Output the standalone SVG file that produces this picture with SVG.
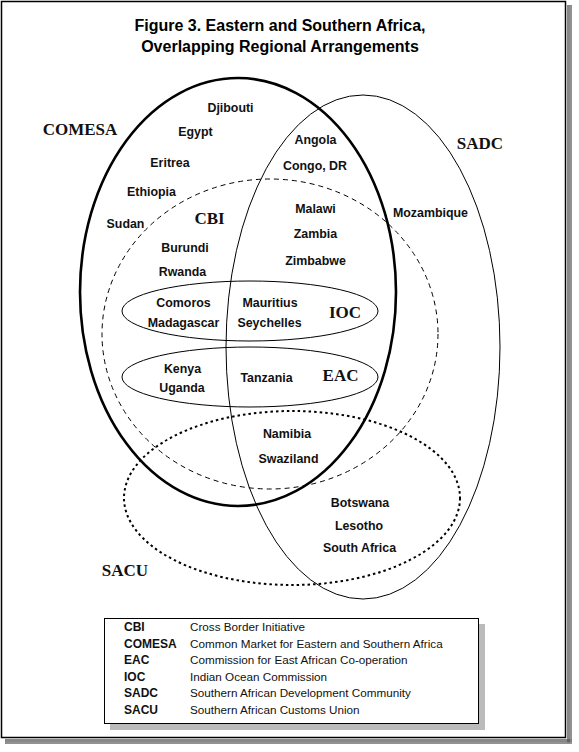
<svg xmlns="http://www.w3.org/2000/svg" width="579" height="752" viewBox="0 0 579 752">
<style>
.title{font-family:"Liberation Sans",Arial,sans-serif;font-weight:bold;font-size:16px;text-anchor:middle;fill:#000}
.c{font-family:"Liberation Sans",Arial,sans-serif;font-weight:bold;font-size:12.4px;text-anchor:middle;fill:#111}
.g{font-family:"Liberation Serif","Times New Roman",serif;font-weight:bold;font-size:17px;text-anchor:middle;fill:#111}
.ab{font-family:"Liberation Sans",Arial,sans-serif;font-weight:bold;font-size:12px;fill:#111}
.ds{font-family:"Liberation Sans",Arial,sans-serif;font-size:11.7px;fill:#111}
.e{fill:none;stroke:#000}
</style>
<rect width="579" height="752" fill="#fff"/>
<!-- frame shadow -->
<rect x="567" y="5" width="5" height="738" fill="#555" opacity="0.7"/>
<rect x="5" y="739" width="567" height="5" fill="#555" opacity="0.7"/>
<rect x="570" y="6" width="2" height="738" fill="#999" opacity="0.6"/>
<rect x="6" y="742" width="566" height="2" fill="#999" opacity="0.6"/>
<rect x="1.5" y="1.5" width="564" height="736" fill="#fff" stroke="#000" stroke-width="1.5"/>
<g id="title">
<text class="title" x="280" y="31">Figure 3. Eastern and Southern Africa,</text>
<text class="title" x="280" y="52">Overlapping Regional Arrangements</text>
</g>
<g id="connectors">
<ellipse id="comesa-shape" class="e" cx="238" cy="292" rx="158" ry="214" stroke-width="2.6"/>
<ellipse id="sadc-shape" class="e" cx="363" cy="347" rx="137" ry="252" stroke-width="1"/>
<ellipse id="cbi-shape" class="e" cx="270" cy="334" rx="168" ry="155" stroke-width="1" stroke-dasharray="5,4"/>
<ellipse id="ioc-shape" class="e" cx="250" cy="311" rx="128" ry="30" stroke-width="1"/>
<ellipse id="eac-shape" class="e" cx="250" cy="377" rx="128" ry="30" stroke-width="1"/>
<ellipse id="sacu-shape" class="e" cx="292" cy="498" rx="168" ry="87" stroke-width="2" stroke-dasharray="2.5,3"/>
</g>
<g id="COMESA"><text class="g" x="80" y="135">COMESA</text></g>
<g id="SADC"><text class="g" x="480" y="149">SADC</text></g>
<g id="CBI"><text class="g" x="209.5" y="224">CBI</text></g>
<g id="IOC"><text class="g" x="345" y="318">IOC</text></g>
<g id="EAC"><text class="g" x="340.5" y="381">EAC</text></g>
<g id="SACU"><text class="g" x="125" y="576">SACU</text></g>
<g id="countries">
<text class="c" x="230.5" y="111.5">Djibouti</text>
<text class="c" x="195.5" y="136">Egypt</text>
<text class="c" x="170" y="166.5">Eritrea</text>
<text class="c" x="151.5" y="195.5">Ethiopia</text>
<text class="c" x="125.5" y="227.5">Sudan</text>
<text class="c" x="185" y="251.5">Burundi</text>
<text class="c" x="182.5" y="275.5">Rwanda</text>
<text class="c" x="315.5" y="143.5">Angola</text>
<text class="c" x="315" y="169.5">Congo, DR</text>
<text class="c" x="315.5" y="212.5">Malawi</text>
<text class="c" x="315.5" y="237.5">Zambia</text>
<text class="c" x="315.5" y="264.5">Zimbabwe</text>
<text class="c" x="430.5" y="216.5">Mozambique</text>
<text class="c" x="183.5" y="306.5">Comoros</text>
<text class="c" x="183.5" y="326.5">Madagascar</text>
<text class="c" x="270" y="306.5">Mauritius</text>
<text class="c" x="269.5" y="326.5">Seychelles</text>
<text class="c" x="182.5" y="372.5">Kenya</text>
<text class="c" x="182" y="391.5">Uganda</text>
<text class="c" x="266.5" y="381.5">Tanzania</text>
<text class="c" x="287" y="437.5">Namibia</text>
<text class="c" x="288.5" y="462.5">Swaziland</text>
<text class="c" x="360" y="506.5">Botswana</text>
<text class="c" x="359" y="529.5">Lesotho</text>
<text class="c" x="359.5" y="551.5">South Africa</text>
</g>
<g id="legend">
<rect x="110" y="624" width="375" height="106" fill="#bbb"/>
<rect x="104.5" y="618.5" width="374" height="105" fill="#fff" stroke="#000" stroke-width="1"/>
<text class="ab" x="124" y="631">CBI</text><text class="ds" x="190" y="631">Cross Border Initiative</text>
<text class="ab" x="124" y="647.5">COMESA</text><text class="ds" x="190" y="647.5">Common Market for Eastern and Southern Africa</text>
<text class="ab" x="124" y="664">EAC</text><text class="ds" x="190" y="664">Commission for East African Co-operation</text>
<text class="ab" x="124" y="680.5">IOC</text><text class="ds" x="190" y="680.5">Indian Ocean Commission</text>
<text class="ab" x="124" y="697">SADC</text><text class="ds" x="190" y="697">Southern African Development Community</text>
<text class="ab" x="124" y="713.5">SACU</text><text class="ds" x="190" y="713.5">Southern African Customs Union</text>
</g>
</svg>
